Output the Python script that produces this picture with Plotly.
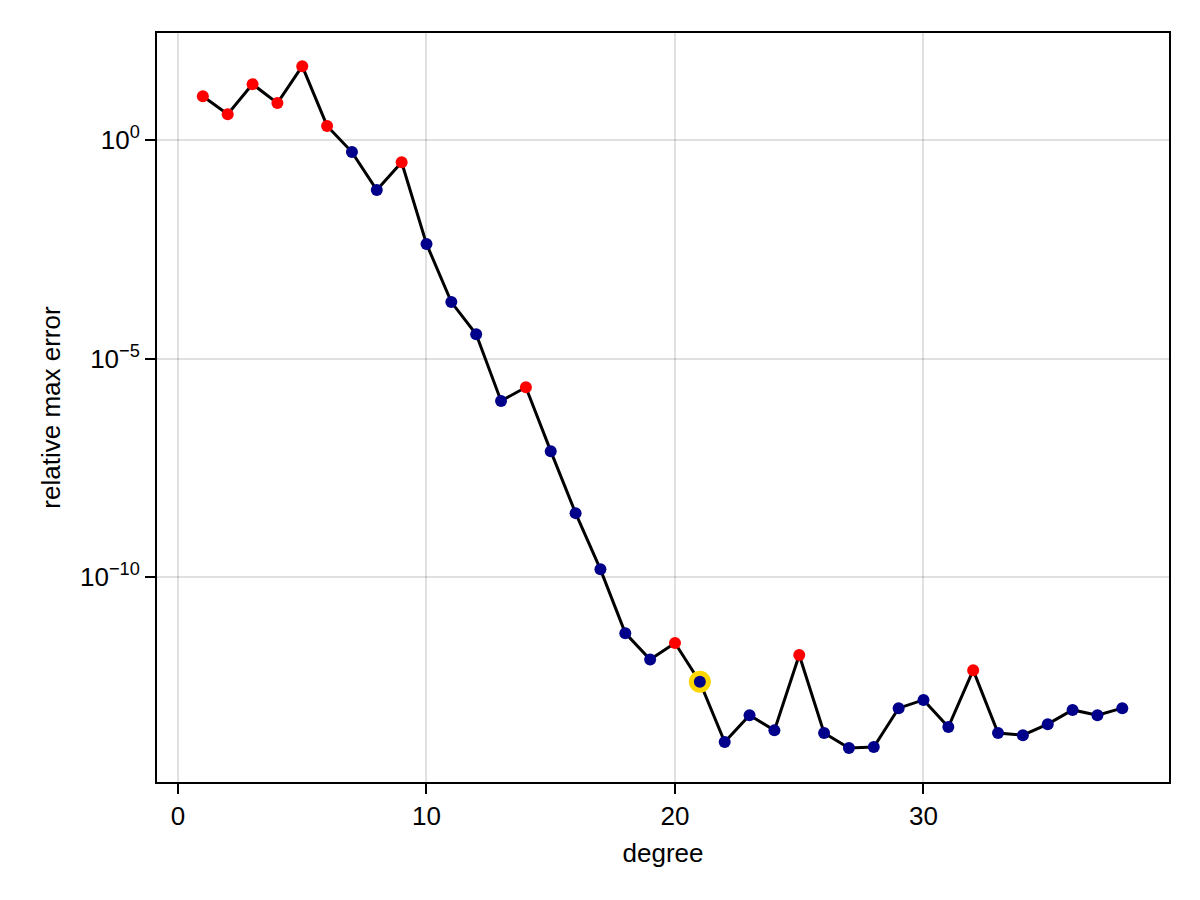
import plotly.graph_objects as go

# degree vs relative max error
degree = list(range(1, 39))
rel_err = [
    10.0, 3.9, 19.0, 7.0, 49.0, 2.1, 0.53, 0.072, 0.31, 0.0042,
    1.96e-4, 3.6e-5, 1.07e-6, 2.2e-6, 7.6e-8, 2.9e-9, 1.5e-10, 5.2e-12, 1.3e-12, 3.1e-12,
    4.0e-13, 1.67e-14, 6.9e-14, 3.1e-14, 1.65e-12, 2.7e-14, 1.22e-14, 1.29e-14, 1.0e-13, 1.54e-13,
    3.7e-14, 7.4e-13, 2.7e-14, 2.4e-14, 4.3e-14, 9.1e-14, 6.9e-14, 1.0e-13,
]
# degrees where the error went up (drawn red)
red_degrees = [1, 2, 3, 4, 5, 6, 9, 14, 20, 25, 32]
best_degree = 21

colors = ["red" if d in red_degrees else "#00008b" for d in degree]
best_err = rel_err[degree.index(best_degree)]

fig = go.Figure()

fig.add_trace(go.Scatter(
    x=degree, y=rel_err, mode="lines",
    line=dict(color="black", width=3),
    hoverinfo="skip",
))
# highlighted choice: gold disc behind the dot
fig.add_trace(go.Scatter(
    x=[best_degree], y=[best_err], mode="markers",
    marker=dict(size=22, color="gold", line=dict(width=0)),
))
fig.add_trace(go.Scatter(
    x=degree, y=rel_err, mode="markers",
    marker=dict(size=12, color=colors, line=dict(width=0)),
))

font = dict(family="Liberation Sans, Arial, sans-serif", size=26, color="black")
axis_common = dict(
    showline=True, linecolor="black", linewidth=2, mirror=True,
    showgrid=True, gridcolor="rgba(0,0,0,0.12)", gridwidth=1.5,
    ticks="outside", ticklen=10, tickwidth=2, tickcolor="black",
    zeroline=False, tickfont=font,
)

fig.update_layout(
    width=1200, height=900,
    margin=dict(l=149, r=39, t=25, b=126),
    paper_bgcolor="white", plot_bgcolor="white",
    showlegend=False, font=font,
    xaxis=dict(
        range=[-0.845, 39.88], tickvals=[0, 10, 20, 30],
        title=dict(text="degree", font=font, standoff=14),
        **axis_common,
    ),
    yaxis=dict(
        type="log", range=[-14.69, 2.449],
        tickvals=[1, 1e-5, 1e-10],
        ticktext=["10<sup>0</sup>", "10<sup>\u22125</sup>", "10<sup>\u221210</sup>"],
        title=dict(text="relative max error", font=font, standoff=12),
        **axis_common,
    ),
)

fig.write_html("out.html")
